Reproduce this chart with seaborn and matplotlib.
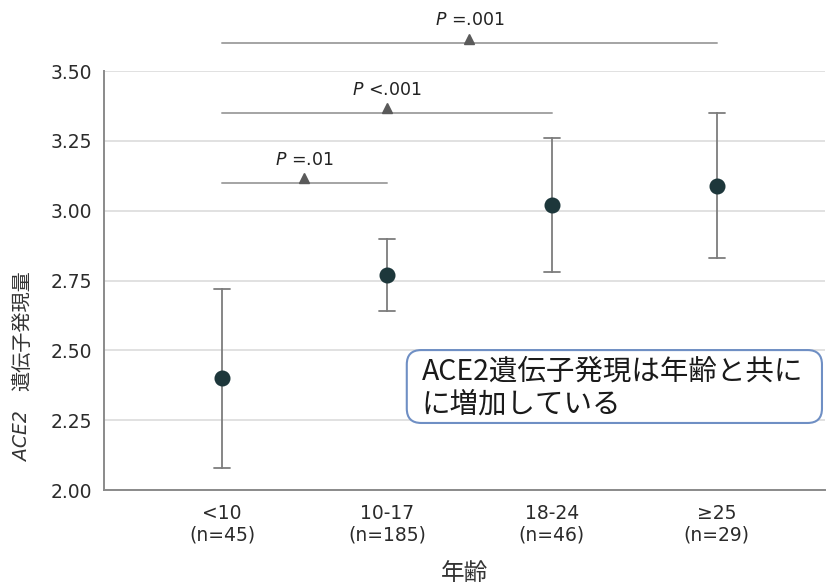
import pandas as pd
import matplotlib
matplotlib.use('Agg')
import matplotlib.pyplot as plt
from matplotlib.patches import FancyBboxPatch
from matplotlib.transforms import offset_copy
import seaborn as sns

# values
age_groups = ['<10\n(n=45)', '10-17\n(n=185)', '18-24\n(n=46)', '≥25\n(n=29)']
mean_expr = [2.40, 2.77, 3.02, 3.09]
ci_low = [2.08, 2.64, 2.78, 2.83]
ci_high = [2.72, 2.90, 3.26, 3.35]

# comparison brackets (group index from / to, height, label)
cmp_from = [0, 0, 0]
cmp_to = [1, 2, 3]
cmp_y = [3.10, 3.35, 3.60]
cmp_p = ['=.01', '<.001', '=.001']

yticks = [2.00, 2.25, 2.50, 2.75, 3.00, 3.25, 3.50]

sns.set_style('white')
plt.rcParams['font.family'] = ['DejaVu Sans', 'Noto Sans CJK JP']

# long table: each group holds low / mean / high, so median = mean, 100% interval = CI
df = pd.DataFrame({
    'group': [g for g in age_groups for _ in range(3)],
    'value': [v for trio in zip(ci_low, mean_expr, ci_high) for v in trio],
})

fig, ax = plt.subplots(figsize=(8.29, 5.86), dpi=100)
fig.subplots_adjust(left=0.1255, right=0.995, bottom=0.1638, top=0.8788)

ax.set_axisbelow(True)
ax.yaxis.grid(True, color='#dedede', linewidth=1.3)

sns.pointplot(data=df, x='group', y='value', estimator='median',
              errorbar=('pi', 100), capsize=0.1, linestyle='none',
              color='#1d373b', markersize=9.5,
              err_kws={'color': '#7d7d7d', 'linewidth': 1.3, 'zorder': 1},
              ax=ax)
for coll in ax.collections:
    coll.set_zorder(3)
for line in ax.lines:
    if line.get_marker() not in (None, 'None', ''):
        line.set_zorder(3)

ax.set_xlim(-0.715, 3.655)
ax.set_ylim(2.0, 3.5)
ax.set_yticks(yticks)
ax.set_yticklabels([f'{t:.2f}' for t in yticks])

for side in ['top', 'right']:
    ax.spines[side].set_visible(False)
for side in ['left', 'bottom']:
    ax.spines[side].set_color('#8a8a8a')
    ax.spines[side].set_linewidth(1.4)
ax.tick_params(axis='both', direction='out', length=5, width=1.2, color='#8a8a8a',
               labelsize=13.5, labelcolor='#2b2b2b')
ax.tick_params(axis='x', pad=5)

ax.set_xlabel('年齢', fontsize=17, family=['Noto Sans CJK JP'], color='#333333', labelpad=12)
ax.set_ylabel('')
fig.text(0.027, 0.256, 'ACE2', rotation=90, style='italic', fontsize=13.5,
         ha='center', va='center', color='#333333')
fig.text(0.027, 0.435, '遺伝子発現量', rotation=90, fontsize=14.5,
         family=['Noto Sans CJK JP'], ha='center', va='center', color='#333333')

# significance brackets above the points
tri_trans = offset_copy(ax.transData, fig=fig, x=0, y=3.2, units='points')
for a, b, y, p in zip(cmp_from, cmp_to, cmp_y, cmp_p):
    mid = (a + b) / 2
    ax.plot([a, b], [y, y], color='#a4a4a4', linewidth=1.4, clip_on=False, zorder=2)
    ax.plot([mid], [y], marker='^', markersize=6.5, color='#5a5a5a', linestyle='none',
            transform=tri_trans, clip_on=False, zorder=3)
    ax.annotate(r'$\it{P}$ ' + p, xy=(mid, y), xytext=(0, 10), textcoords='offset points',
                ha='center', va='bottom', fontsize=12.5, color='#222222',
                annotation_clip=False)

# callout box
box = FancyBboxPatch((0.420, 0.160), 0.576, 0.174, transform=ax.transAxes,
                     boxstyle='round,pad=0,rounding_size=0.02',
                     mutation_aspect=721 / 419,
                     facecolor='white', edgecolor='#6f8fc4', linewidth=1.5, zorder=4)
ax.add_patch(box)
ax.text(0.441, 0.243, 'ACE2遺伝子発現は年齢と共に\nに増加している', transform=ax.transAxes,
        ha='left', va='center', fontsize=20.5, linespacing=1.1,
        family=['Noto Sans CJK JP'], color='#1a1a1a', zorder=5)

fig.savefig('out.png', dpi=100)
